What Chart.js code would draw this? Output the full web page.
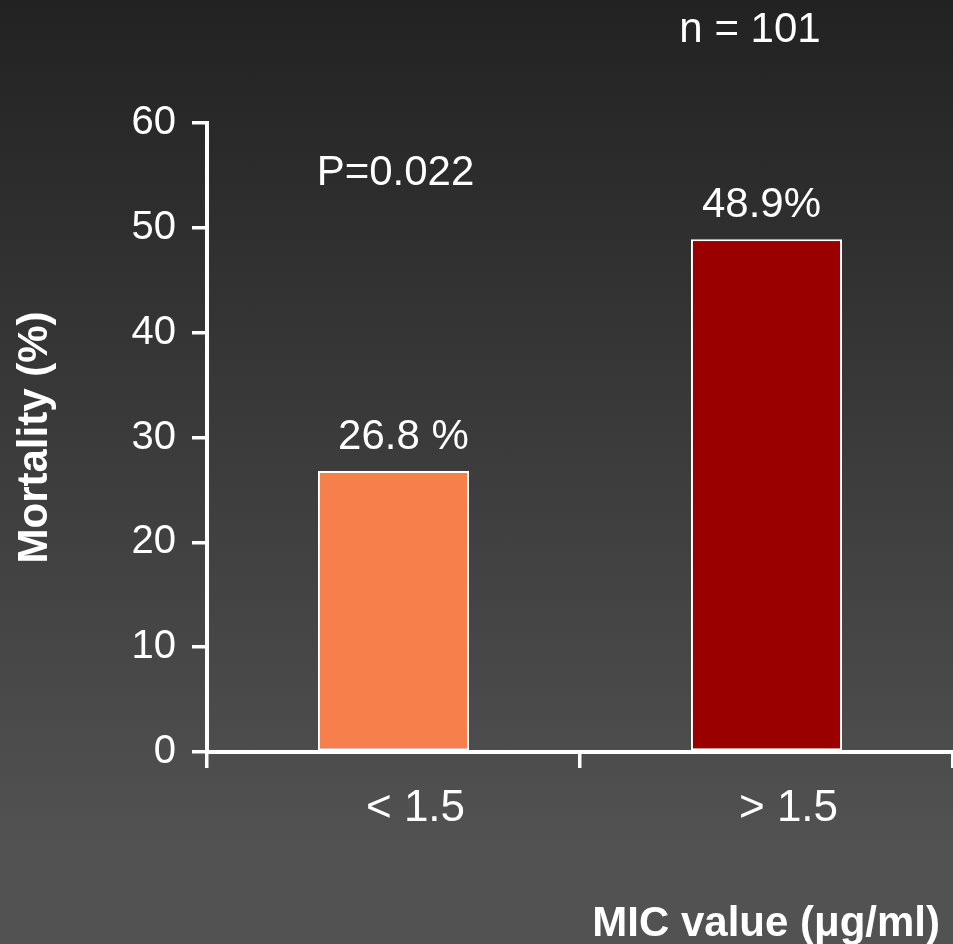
<!DOCTYPE html>
<html>
<head>
<meta charset="utf-8">
<script src="https://cdn.jsdelivr.net/npm/chart.js@4"></script>
<style>
  html, body { margin: 0; padding: 0; }
  body {
    width: 953px; height: 944px; overflow: hidden;
    background: linear-gradient(to bottom, #222222 0%, #3a3a3a 45%, #525252 90%, #525252 100%);
  }
  #wrap { width: 953px; height: 944px; position: relative; }
</style>
</head>
<body>
<div id="wrap"><canvas id="c"></canvas></div>
<script>
// Mortality by vancomycin MIC group
const categories = ['< 1.5', '> 1.5'];
const mortality = [26.8, 48.9];
const valueLabels = ['26.8 %', '48.9%'];
const barColors = ['#F77F4B', '#9A0000'];
const yTicks = [0, 10, 20, 30, 40, 50, 60];
const pValueText = 'P=0.022';
const sampleText = 'n = 101';
const xTitle = 'MIC value (\u03bcg/ml)';
const yTitle = 'Mortality (%)';

const FONT = '"Liberation Sans", Arial, Helvetica, sans-serif';

const annotations = {
  id: 'annotations',
  afterDatasetsDraw(chart) {
    const ctx = chart.ctx;
    const meta = chart.getDatasetMeta(0);
    const yScale = chart.scales.y;
    const xScale = chart.scales.x;
    ctx.save();
    ctx.fillStyle = '#ffffff';
    ctx.textBaseline = 'alphabetic';
    ctx.font = '42px ' + FONT;
    ctx.textAlign = 'center';
    meta.data.forEach((bar, i) => {
      ctx.fillText(valueLabels[i], bar.x + (i === 0 ? 10 : -5), bar.y - 22);
    });
    // p-value over the first group
    ctx.fillText(pValueText, xScale.getPixelForValue(0) + 2, yScale.getPixelForValue(54.1));
    // sample size
    ctx.fillText(sampleText, 750, 42);
    // x-axis title, right aligned at the bottom
    ctx.font = 'bold 42px ' + FONT;
    ctx.textAlign = 'right';
    ctx.fillText(xTitle, 940, 936);
    ctx.restore();
  }
};

new Chart(document.getElementById('c'), {
  type: 'bar',
  data: {
    labels: categories,
    datasets: [{
      data: mortality,
      backgroundColor: barColors,
      borderColor: '#ffffff',
      borderWidth: 2,
      borderSkipped: false,
      barPercentage: 0.81,
      categoryPercentage: 0.5
    }]
  },
  options: {
    responsive: true,
    maintainAspectRatio: false,
    animation: false,
    layout: { padding: { top: 123, right: 0, bottom: 0, left: 0 } },
    plugins: {
      legend: { display: false },
      tooltip: { enabled: false }
    },
    scales: {
      x: {
        offset: true,
        grid: {
          offset: true,
          drawOnChartArea: false,
          drawTicks: true,
          tickLength: 16,
          color: '#ffffff',
          lineWidth: 3.5
        },
        border: { display: true, color: '#ffffff', width: 4 },
        ticks: {
          color: '#ffffff',
          font: { family: FONT, size: 44 },
          padding: 14,
          labelOffset: 22,
          maxRotation: 0
        },
        afterFit(scale) { scale.height = 192; }
      },
      y: {
        min: 0,
        max: 60,
        afterBuildTicks(scale) { scale.ticks = yTicks.map(v => ({ value: v })); },
        grid: {
          drawOnChartArea: false,
          drawTicks: true,
          tickLength: 15,
          color: '#ffffff',
          lineWidth: 3.5
        },
        border: { display: true, color: '#ffffff', width: 4 },
        ticks: {
          color: '#ffffff',
          font: { family: FONT, size: 40 },
          padding: 16
        },
        title: {
          display: true,
          text: yTitle,
          color: '#ffffff',
          font: { family: FONT, size: 42, weight: 'bold' },
          padding: { top: 10, bottom: 0 }
        },
        afterFit(scale) { scale.width = 207; }
      }
    }
  },
  plugins: [annotations]
});
</script>
</body>
</html>
